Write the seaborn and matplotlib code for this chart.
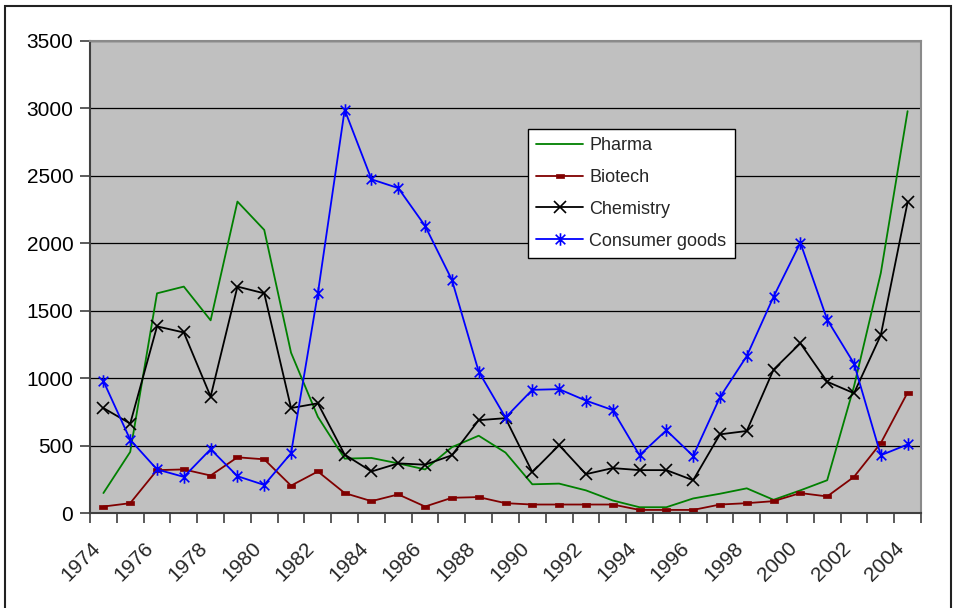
import matplotlib
matplotlib.use("Agg")
import matplotlib.pyplot as plt
import seaborn as sns
import pandas as pd
from matplotlib.path import Path
from matplotlib.patches import Rectangle
from matplotlib.transforms import ScaledTranslation

years = list(range(1974, 2005))
pharma = [150, 455, 1630, 1680, 1430, 2310, 2100, 1190, 715, 405, 410, 370, 325, 490, 575, 450,
          215, 220, 170, 95, 45, 45, 110, 145, 185, 100, 170, 245, 940, 1780, 2980]
biotech = [50, 75, 320, 325, 280, 415, 400, 205, 310, 150, 90, 140, 50, 115, 120, 75,
           65, 65, 65, 65, 25, 25, 25, 65, 75, 90, 150, 125, 270, 520, 895]
chemistry = [780, 665, 1385, 1340, 865, 1680, 1630, 780, 815, 435, 310, 370, 360, 430, 690, 705,
             305, 505, 290, 335, 320, 320, 245, 585, 610, 1065, 1260, 975, 890, 1320, 2305]
consumer = [980, 545, 325, 270, 475, 275, 210, 445, 1630, 2990, 2475, 2410, 2130, 1730, 1050, 710,
            915, 920, 835, 765, 430, 615, 425, 860, 1165, 1605, 2005, 1435, 1110, 430, 510]
series_names = ["Pharma", "Biotech", "Chemistry", "Consumer goods"]
y_ticks = [0, 500, 1000, 1500, 2000, 2500, 3000, 3500]

sns.set_theme(style="white")
plt.rcParams["font.family"] = ["Liberation Sans", "DejaVu Sans"]

fig = plt.figure(figsize=(9.57, 6.08), dpi=100)
W, H = 957, 608
ax = fig.add_axes([90 / W, (H - 513.3) / H, 831 / W, (513.3 - 41) / H])
ax.set_facecolor("#C0C0C0")

idx = list(range(len(years)))
df = pd.DataFrame({"idx": idx, "Pharma": pharma, "Biotech": biotech,
                   "Chemistry": chemistry, "Consumer goods": consumer})

rect_marker = Path([(-1, -0.45), (1, -0.45), (1, 0.45), (-1, 0.45), (-1, -0.45)],
                   [Path.MOVETO, Path.LINETO, Path.LINETO, Path.LINETO, Path.CLOSEPOLY])
star_marker = Path([(-1, -1), (1, 1), (-1, 1), (1, -1), (0, -1.3), (0, 1.3)],
                   [Path.MOVETO, Path.LINETO, Path.MOVETO, Path.LINETO, Path.MOVETO, Path.LINETO])

styles = {
    "Pharma": dict(color="#008000", marker=None),
    "Biotech": dict(color="#800000", marker=rect_marker, markersize=6, mfc="#800000", mec="#800000", mew=0.5),
    "Chemistry": dict(color="#000000", marker="x", markersize=9, mec="#000000", mew=1.2),
    "Consumer goods": dict(color="#0000FF", marker=star_marker, markersize=9, mfc="none", mec="#0000FF", mew=1.2),
}
for name in series_names:
    st = dict(styles[name])
    color = st.pop("color")
    marker = st.pop("marker")
    kws = dict(st)
    if marker is not None:
        kws["marker"] = marker
    sns.lineplot(data=df, x="idx", y=name, ax=ax, color=color, linewidth=1.3,
                 label=name, **kws)

ax.set_xlim(-0.5, len(years) - 0.5)
ax.set_ylim(0, 3500)
ax.set_yticks(y_ticks)
ax.set_yticklabels([str(v) for v in y_ticks])
ax.yaxis.grid(True, color="black", linewidth=0.9)
ax.set_axisbelow(True)
ax.set_xlabel("")
ax.set_ylabel("")

# category boundaries as tick marks
ax.set_xticks([i - 0.5 for i in range(len(years) + 1)])
ax.set_xticklabels([])
ax.tick_params(axis="x", direction="out", length=7, width=1.2, color="#404040", bottom=True)
ax.tick_params(axis="y", direction="out", length=7, width=1.2, color="#404040", left=True,
               labelsize=15, pad=5, labelcolor="black")

off = ScaledTranslation(-13 / 100, -25 / 100, fig.dpi_scale_trans)
for i, yr in enumerate(years):
    if i % 2 == 0:
        ax.text(i, 0, str(yr), transform=ax.get_xaxis_transform() + off,
                rotation=45, ha="right", va="top", rotation_mode="anchor", fontsize=15)

for s in ["left", "bottom"]:
    ax.spines[s].set_color("#404040")
    ax.spines[s].set_linewidth(1.5)
for s in ["top", "right"]:
    ax.spines[s].set_color("#8A8A8A")
    ax.spines[s].set_linewidth(1.5)

leg = ax.legend(loc="upper left", bbox_to_anchor=(528 / W, 1 - 129 / H),
                bbox_transform=fig.transFigure, borderaxespad=0, fontsize=13,
                frameon=True, fancybox=False, shadow=False, handlelength=2.6,
                handletextpad=0.35, labelspacing=0.82, borderpad=0.45)
leg.get_frame().set_edgecolor("black")
leg.get_frame().set_linewidth(1.0)
leg.get_frame().set_facecolor("white")
leg.get_frame().set_alpha(1)

fig.patches.append(Rectangle((5 / W, -0.1), (951 - 5) / W, 1.1 - 6 / H, transform=fig.transFigure,
                             fill=False, edgecolor="#222222", linewidth=1.5))

fig.savefig("out.png", dpi=100)
